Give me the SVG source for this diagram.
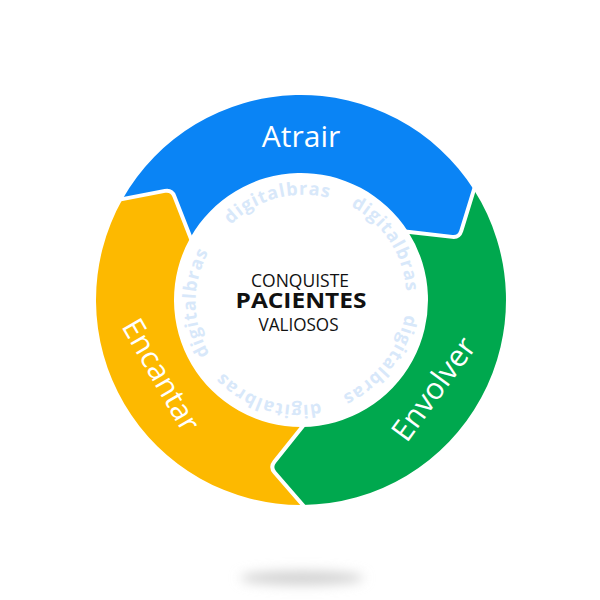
<svg xmlns="http://www.w3.org/2000/svg" width="600" height="600" viewBox="0 0 600 600">
  <defs>
    <style>
      .seg-label { font-family: "Open Sans", "Noto Sans", "Liberation Sans", sans-serif; font-size: 30px; fill: #ffffff; text-anchor: middle; }
      .center { font-family: "Open Sans", "Noto Sans", "Liberation Sans", sans-serif; fill: #111111; text-anchor: middle; }
      .wm { font-family: "Open Sans", "Noto Sans", "Liberation Sans", sans-serif; font-weight: 700; font-size: 18px; letter-spacing: 1px; fill: #d8e8fa; }
      .sep { fill: none; stroke: #ffffff; stroke-width: 4; stroke-linejoin: round; }
    </style>
    <filter id="blur" x="-50%" y="-300%" width="200%" height="700%">
      <feGaussianBlur stdDeviation="6"/>
    </filter>
    <path id="wmPath" d="M230.8,224.7 A103,103 0 1,1 371.2,375.3 A103,103 0 1,1 230.8,224.7"/>
  </defs>

  <rect width="600" height="600" fill="#ffffff"/>

  <ellipse cx="302" cy="578" rx="62" ry="7" fill="#d2d2d2" filter="url(#blur)"/>

  <g id="node-encantar">
    <path fill="#fdb900" d="M302.79,504.99 A205,205 0 0 1 122.58,199.05 L164.86,190.91 Q171.73,189.59 174.28,196.11 L190.46,237.46 A127,127 0 0 0 302.11,426.99 L274.39,461.68 Q270.02,467.15 274.60,472.44 Z"/>
    <text class="seg-label" transform="translate(152,380) rotate(60)">Encantar</text>
  </g>

  <g id="node-atrair">
    <path fill="#0a84f5" d="M122.58,199.05 A205,205 0 0 1 473.89,189.85 L461.23,231.00 Q459.17,237.69 452.22,236.88 L408.11,231.76 A127,127 0 0 0 190.46,237.46 L174.28,196.11 Q171.73,189.59 164.86,190.91 Z"/>
    <text class="seg-label" x="301" y="147">Atrair</text>
  </g>

  <g id="node-envolver">
    <path fill="#00a84e" d="M473.89,189.85 A205,205 0 0 1 302.79,504.99 L274.60,472.44 Q270.02,467.15 274.39,461.68 L302.11,426.99 A127,127 0 0 0 408.11,231.76 L452.22,236.88 Q459.17,237.69 461.23,231.00 Z"/>
    <text class="seg-label" transform="translate(442,395) rotate(-54)">Envolver</text>
  </g>

  <g id="connectors">
    <path class="sep" d="M119.63,199.62 L164.86,190.91 Q171.73,189.59 174.28,196.11 L191.55,240.25"/>
    <path class="sep" d="M474.77,186.98 L461.23,231.00 Q459.17,237.69 452.22,236.88 L405.13,231.41"/>
    <path class="sep" d="M304.75,507.26 L274.60,472.44 Q270.02,467.15 274.39,461.68 L303.98,424.65"/>
  </g>

  <g id="watermark">
    <text class="wm"><textPath href="#wmPath" startOffset="0">digitalbras</textPath></text>
    <text class="wm"><textPath href="#wmPath" startOffset="129.4">digitalbras</textPath></text>
    <text class="wm"><textPath href="#wmPath" startOffset="258.8">digitalbras</textPath></text>
    <text class="wm"><textPath href="#wmPath" startOffset="388.3">digitalbras</textPath></text>
    <text class="wm"><textPath href="#wmPath" startOffset="517.7">digitalbras</textPath></text>
  </g>

  <g id="node-center">
    <text class="center" x="300" y="286.5" font-size="18.5" textLength="98" lengthAdjust="spacingAndGlyphs">CONQUISTE</text>
    <text class="center" x="301" y="308" font-size="21" font-weight="700" textLength="131" lengthAdjust="spacingAndGlyphs">PACIENTES</text>
    <text class="center" x="298.5" y="330.5" font-size="18" textLength="80" lengthAdjust="spacingAndGlyphs">VALIOSOS</text>
  </g>
</svg>
